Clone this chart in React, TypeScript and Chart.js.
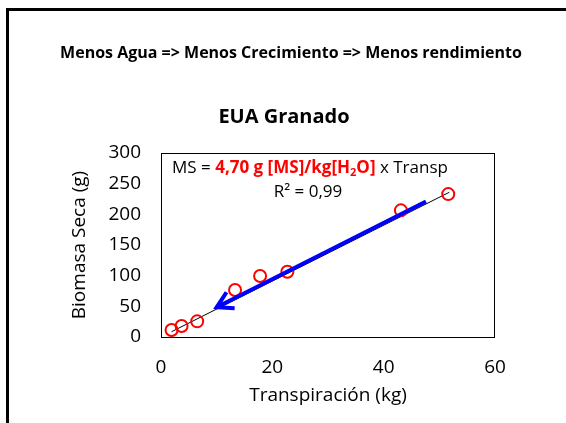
import React, { useEffect, useRef } from "react";
import { Chart, registerables } from "chart.js";

Chart.register(...registerables);

// ---- Data ----
const transpiracionKg = [1.9, 3.7, 6.5, 13.3, 17.8, 22.7, 43.1, 51.6];
const biomasaSecaG = [11.4, 17.9, 25.5, 76.6, 99.5, 106.5, 206.5, 233];
const trendX = [1.9, 51.8];
const trendY = [8.6, 236];
const arrowX = [47.6, 10.0];
const arrowY = [221, 48.4];
const xTicks = [0, 20, 40, 60];
const yTicks = [0, 50, 100, 150, 200, 250, 300];

const headerText = "Menos Agua => Menos Crecimiento => Menos rendimiento";
const titleText = "EUA Granado";
const xTitle = "Transpiración (kg)";
const yTitle = "Biomasa Seca (g)";
const r2Text = "R² = 0,99";

const FONT = "'Open Sans', 'Liberation Sans', sans-serif";
const RED = "#ff0000";
const BLUE = "#0000ff";

const decorPlugin = {
  id: "decor",
  beforeDraw(chart: any) {
    const ctx = chart.ctx;
    ctx.save();
    ctx.fillStyle = "#ffffff";
    ctx.fillRect(0, 0, chart.width, chart.height);
    ctx.fillStyle = "#000000";
    ctx.fillRect(6, 8, 3, chart.height - 8);
    ctx.fillRect(6, 8, chart.width - 6, 3);
    // header and title
    ctx.textAlign = "center";
    ctx.textBaseline = "middle";
    ctx.font = `bold 16px ${FONT}`;
    ctx.fillText(headerText, 291, 53);
    ctx.font = `bold 20px ${FONT}`;
    ctx.fillText(titleText, 284, 117);
    ctx.restore();
  },
  afterDatasetsDraw(chart: any) {
    const ctx = chart.ctx;
    const { left, right, top, bottom } = chart.chartArea;
    const xs = chart.scales.x;
    const ys = chart.scales.y;
    ctx.save();
    // plot frame
    ctx.strokeStyle = "#000000";
    ctx.lineWidth = 1;
    ctx.strokeRect(left + 0.5, top + 0.5, right - left - 1, bottom - top);

    // arrow head (open chevron)
    const x0 = xs.getPixelForValue(arrowX[0]);
    const y0 = ys.getPixelForValue(arrowY[0]);
    const x1 = xs.getPixelForValue(arrowX[1]);
    const y1 = ys.getPixelForValue(arrowY[1]);
    const ang = Math.atan2(y0 - y1, x0 - x1);
    const L = 18;
    const spread = Math.PI / 6;
    ctx.strokeStyle = BLUE;
    ctx.lineWidth = 4;
    ctx.lineCap = "butt";
    ctx.lineJoin = "miter";
    ctx.beginPath();
    ctx.moveTo(x1 + L * Math.cos(ang - spread), y1 + L * Math.sin(ang - spread));
    ctx.lineTo(x1, y1);
    ctx.lineTo(x1 + L * Math.cos(ang + spread), y1 + L * Math.sin(ang + spread));
    ctx.stroke();

    // equation text
    const size = 17;
    const parts = [
      { t: "MS = ", c: "#000000", b: false, sub: false },
      { t: "4,70 g [MS]/kg[H", c: RED, b: true, sub: false },
      { t: "2", c: RED, b: true, sub: true },
      { t: "O]", c: RED, b: true, sub: false },
      { t: " x Transp", c: "#000000", b: false, sub: false },
    ];
    let x = left + 11;
    const base = top + 20;
    ctx.textBaseline = "alphabetic";
    ctx.textAlign = "left";
    for (const p of parts) {
      const fs = p.sub ? Math.round(size * 0.65) : size;
      ctx.font = `${p.b ? "bold " : ""}${fs}px ${FONT}`;
      ctx.fillStyle = p.c;
      ctx.fillText(p.t, x, p.sub ? base + 3 : base);
      x += ctx.measureText(p.t).width;
    }
    ctx.font = `${size}px ${FONT}`;
    ctx.fillStyle = "#000000";
    ctx.textAlign = "center";
    ctx.fillText(r2Text, left + 147, top + 44);
    ctx.restore();
  },
};

export default function App() {
  const ref = useRef<HTMLCanvasElement | null>(null);

  useEffect(() => {
    if (!ref.current) return;
    const tickFont = { family: FONT, size: 19 };
    const chart = new Chart(ref.current, {
      type: "scatter",
      data: {
        datasets: [
          {
            label: "Flecha",
            type: "line",
            data: arrowX.map((x, i) => ({ x, y: arrowY[i] })),
            borderColor: BLUE,
            borderWidth: 4,
            pointRadius: 0,
            showLine: true,
            fill: false,
            order: 0,
          } as any,
          {
            label: "Datos",
            data: transpiracionKg.map((x, i) => ({ x, y: biomasaSecaG[i] })),
            pointStyle: "circle",
            pointRadius: 6,
            pointBorderWidth: 2,
            borderColor: RED,
            pointBorderColor: RED,
            backgroundColor: "rgba(0,0,0,0)",
            pointBackgroundColor: "rgba(0,0,0,0)",
            showLine: false,
            order: 1,
          },
          {
            label: "Tendencia",
            type: "line",
            data: trendX.map((x, i) => ({ x, y: trendY[i] })),
            borderColor: "#000000",
            borderWidth: 1,
            pointRadius: 0,
            showLine: true,
            fill: false,
            order: 2,
          } as any,
        ],
      },
      options: {
        responsive: false,
        maintainAspectRatio: false,
        animation: false,
        layout: { padding: { left: 0, right: 71, top: 153, bottom: 0 } },
        plugins: {
          legend: { display: false },
          tooltip: { enabled: false },
          title: { display: false },
          subtitle: { display: false },
        },
        scales: {
          x: {
            type: "linear",
            min: 0,
            max: 60,
            afterBuildTicks: (s: any) => {
              s.ticks = xTicks.map((v) => ({ value: v }));
            },
            afterFit: (s: any) => {
              s.height = 86;
            },
            grid: { display: false, drawTicks: false },
            border: { display: false },
            ticks: { color: "#000000", font: tickFont, padding: 19, maxRotation: 0 },
            title: {
              display: true,
              text: xTitle,
              color: "#000000",
              font: { family: FONT, size: 19, lineHeight: 1.2 },
              padding: { top: 0, bottom: 15.6 },
            },
          },
          y: {
            type: "linear",
            min: 0,
            max: 300,
            afterBuildTicks: (s: any) => {
              s.ticks = yTicks.map((v) => ({ value: v }));
            },
            afterFit: (s: any) => {
              s.width = 161;
            },
            grid: { display: false, drawTicks: false },
            border: { display: false },
            ticks: { color: "#000000", font: tickFont, padding: 20 },
            title: {
              display: true,
              text: yTitle,
              color: "#000000",
              font: { family: FONT, size: 19, lineHeight: 1.2 },
              padding: { top: 68.6, bottom: 0 },
            },
          },
        },
      } as any,
      plugins: [decorPlugin],
    });
    return () => chart.destroy();
  }, []);

  return (
    <div style={{ position: "fixed", left: 0, top: 0, width: 566, height: 423, background: "#fff" }}>
      <canvas ref={ref} width={566} height={423} style={{ display: "block" }} />
    </div>
  );
}
